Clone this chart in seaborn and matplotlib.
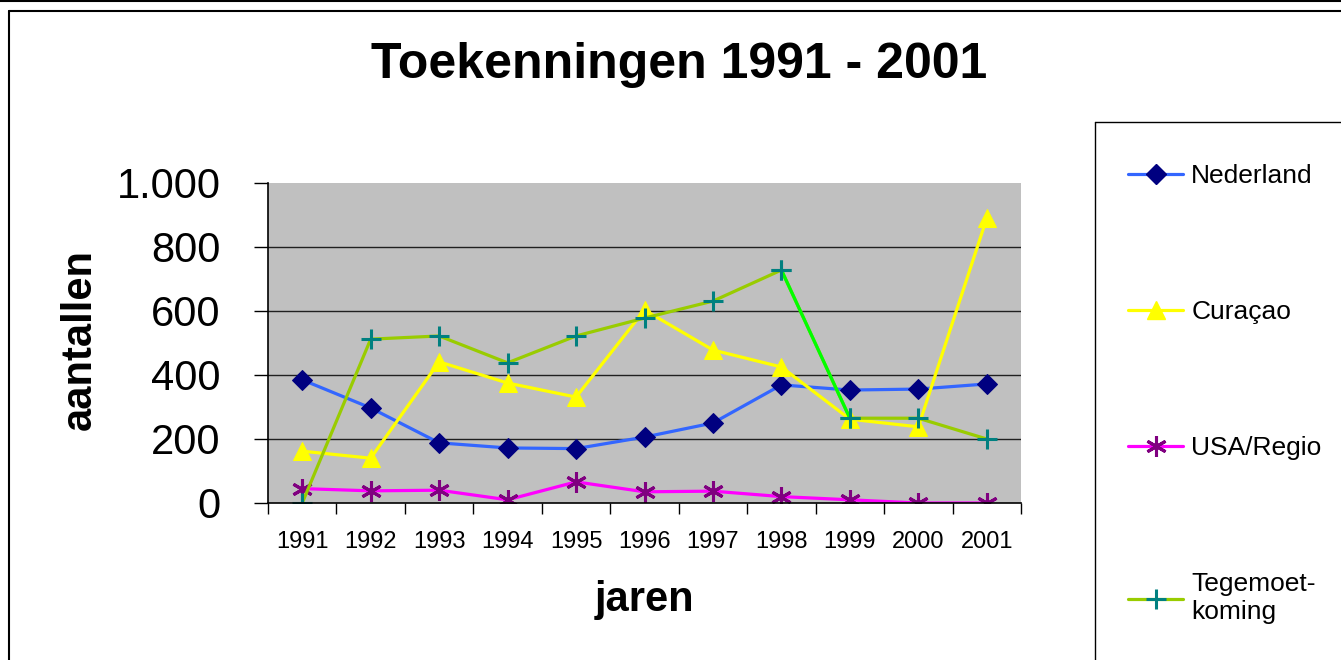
import numpy as np
import pandas as pd
import seaborn as sns
import matplotlib.pyplot as plt
from matplotlib.lines import Line2D
from matplotlib.ticker import FuncFormatter

# Toekenningen per jaar
jaren = [1991, 1992, 1993, 1994, 1995, 1996, 1997, 1998, 1999, 2000, 2001]
nederland = [385, 297, 188, 172, 170, 206, 250, 369, 353, 356, 372]
curacao = [162, 140, 441, 375, 331, 603, 478, 425, 262, 238, 890]
usa_regio = [45, 38, 40, 10, 66, 35, 37, 20, 10, 0, 0]
tegemoet = [0, 512, 522, 438, 522, 578, 631, 728, 265, 265, 200]

reeksen = ["Nederland", "Curaçao", "USA/Regio", "Tegemoet-\nkoming"]

sns.set_theme(style="white")
plt.rcParams["font.family"] = ["Liberation Sans", "DejaVu Sans"]
plt.rcParams["text.color"] = "black"
plt.rcParams["xtick.color"] = "black"
plt.rcParams["ytick.color"] = "black"
plt.rcParams["axes.labelcolor"] = "black"

W, H = 1341, 660
fig = plt.figure(figsize=(W / 100, H / 100), dpi=100)
ax = fig.add_axes([268 / W, 1 - 503 / H, (1021 - 268) / W, (503 - 183) / H])
ax.set_facecolor("#c0c0c0")

df = pd.DataFrame({"jaar": jaren, "Nederland": nederland, "Curaçao": curacao,
                   "USA/Regio": usa_regio, "Tegemoet": tegemoet})

# lijnstijlen zoals in Excel
stijl = {
    "Nederland": dict(color="#3366ff", marker="D", ms=10, mfc="#000080", mec="#000080"),
    "Curaçao": dict(color="#ffff00", marker="^", ms=13, mfc="#ffff00", mec="#ffff00"),
    "USA/Regio": dict(color="#ff00ff", marker=(6, 2, 0), ms=15, mfc="#800080", mec="#800080", mew=2.2),
    "Tegemoet": dict(color="#99cc00", marker="+", ms=15, mfc="#008080", mec="#008080", mew=2.2),
}

for kol in ["Nederland", "Curaçao", "USA/Regio", "Tegemoet"]:
    s = stijl[kol]
    sns.lineplot(data=df, x="jaar", y=kol, ax=ax, sort=False, lw=2.3, **s)

# het segment 1998-1999 van Tegemoetkoming is fel groen
seg = df.iloc[7:9]
ax.plot(seg["jaar"], seg["Tegemoet"], color="#00ff00", lw=2.3, zorder=3)
ax.plot(seg["jaar"], seg["Tegemoet"], ls="none", marker="+", ms=15, mec="#008080", mew=2.2, zorder=4)

ax.set_xlim(1990.5, 2001.5)
ax.set_ylim(0, 1000)
ax.set_yticks([0, 200, 400, 600, 800, 1000])
ax.yaxis.set_major_formatter(FuncFormatter(lambda v, p: f"{int(v):,}".replace(",", ".")))
ax.set_xticks(np.arange(1990.5, 2002, 1))
ax.set_xticklabels([])
ax.set_xticks(jaren, minor=True)
ax.set_xticklabels([str(j) for j in jaren], minor=True)
ax.tick_params(axis="x", which="major", length=8, width=1, color="black", direction="out", bottom=True)
ax.tick_params(axis="x", which="minor", length=0, labelsize=17, pad=20, bottom=True, labelcolor="black")
ax.tick_params(axis="y", length=10, width=1, color="black", direction="out", left=True,
               labelsize=30, pad=24, labelcolor="black")

for y in [200, 400, 600, 800]:
    ax.axhline(y, color="#202020", lw=1, zorder=1)

for k in ["top", "right"]:
    ax.spines[k].set_visible(False)
for k in ["left", "bottom"]:
    ax.spines[k].set_color("black")
    ax.spines[k].set_linewidth(1.2)

ax.set_xlabel("")
ax.set_ylabel("")
fig.text(80 / W, 1 - 340 / H, "aantallen", rotation=90, ha="center", va="center",
         fontsize=30, fontweight="bold", color="black")
fig.text(645 / W, 1 - 600 / H, "jaren", ha="center", va="center", fontsize=30,
         fontweight="bold", color="black")
fig.text(679 / W, 1 - 65 / H, "Toekenningen 1991 - 2001", ha="center", va="center",
         fontsize=36, fontweight="bold", color="black")

# legenda
handles = []
for kol in ["Nederland", "Curaçao", "USA/Regio", "Tegemoet"]:
    s = dict(stijl[kol])
    handles.append(Line2D([], [], lw=2.3, **s))
leg = fig.legend(handles, reeksen, loc="upper left", bbox_to_anchor=(1128 / W, 1 - 164 / H),
                 frameon=False, fontsize=19, handlelength=2.1, handletextpad=0.3,
                 labelspacing=4.25, borderpad=0, borderaxespad=0)
for t in leg.get_texts():
    t.set_color("black")

# kaders rondom grafiek en legenda
fig.add_artist(Line2D([0, 1], [1 - 0.5 / H, 1 - 0.5 / H], color="black", lw=1.5))
fig.add_artist(Line2D([9 / W, 1], [1 - 11 / H, 1 - 11 / H], color="black", lw=1.5))
fig.add_artist(Line2D([9 / W, 9 / W], [0, 1 - 11 / H], color="black", lw=1.5))
fig.add_artist(Line2D([1095 / W, 1], [1 - 122 / H, 1 - 122 / H], color="black", lw=1))
fig.add_artist(Line2D([1095 / W, 1095 / W], [0, 1 - 122 / H], color="black", lw=1))

fig.savefig("out.png", dpi=100)
